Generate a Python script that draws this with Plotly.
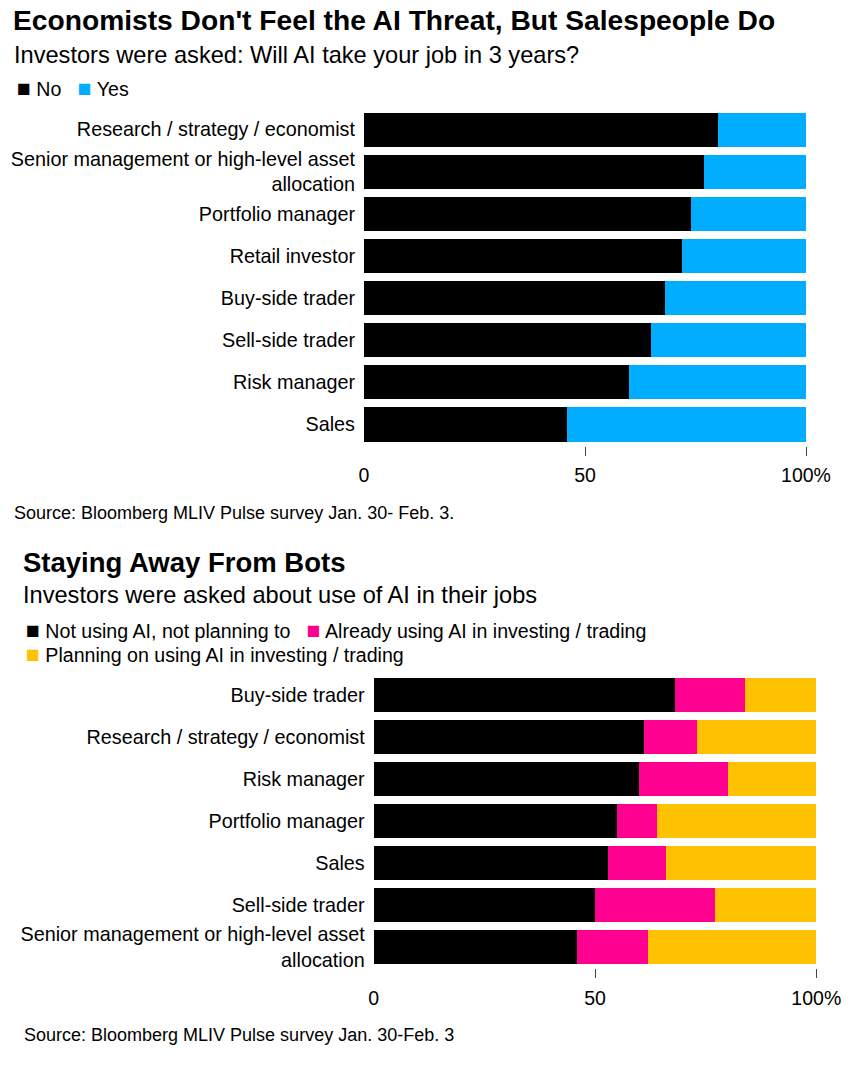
import plotly.graph_objects as go

# ---- Chart 1 data ----
roles1 = ["Research / strategy / economist",
          "Senior management or high-level asset<br>allocation",
          "Portfolio manager", "Retail investor", "Buy-side trader",
          "Sell-side trader", "Risk manager", "Sales"]
no_vals = [80, 77, 74, 72, 68, 65, 60, 46]
yes_vals = [20, 23, 26, 28, 32, 35, 40, 54]

# ---- Chart 2 data ----
roles2 = ["Buy-side trader", "Research / strategy / economist", "Risk manager",
          "Portfolio manager", "Sales", "Sell-side trader",
          "Senior management or high-level asset<br>allocation"]
not_using = [68, 61, 60, 55, 53, 50, 46]
already_using = [16, 12, 20, 9, 13, 27, 16]
planning = [16, 27, 20, 36, 34, 23, 38]

tick_vals = [0, 50, 100]
tick_text = ["0", "50", "100%"]

C_BLACK = "#000000"
C_CYAN = "#00adff"
C_MAGENTA = "#ff0090"
C_YELLOW = "#ffc200"
FONT = "Liberation Sans, Arial, sans-serif"

W, H = 853, 1066

fig = go.Figure()
fig.add_trace(go.Bar(y=roles1, x=no_vals, orientation="h", name="No",
                     marker=dict(color=C_BLACK, line=dict(width=0)),
                     xaxis="x", yaxis="y", showlegend=False))
fig.add_trace(go.Bar(y=roles1, x=yes_vals, orientation="h", name="Yes",
                     marker=dict(color=C_CYAN, line=dict(width=0)),
                     xaxis="x", yaxis="y", showlegend=False))
fig.add_trace(go.Bar(y=roles2, x=not_using, orientation="h",
                     name="Not using AI, not planning to",
                     marker=dict(color=C_BLACK, line=dict(width=0)),
                     xaxis="x2", yaxis="y2", showlegend=False))
fig.add_trace(go.Bar(y=roles2, x=already_using, orientation="h",
                     name="Already using AI in investing / trading",
                     marker=dict(color=C_MAGENTA, line=dict(width=0)),
                     xaxis="x2", yaxis="y2", showlegend=False))
fig.add_trace(go.Bar(y=roles2, x=planning, orientation="h",
                     name="Planning on using AI in investing / trading",
                     marker=dict(color=C_YELLOW, line=dict(width=0)),
                     xaxis="x2", yaxis="y2", showlegend=False))

def px_x(p):
    return p / W

def px_y(p):
    return 1 - p / H

xax = dict(range=[0, 100], tickvals=tick_vals, ticktext=tick_text,
           showgrid=False, zeroline=False, showline=False, ticks="",
           ticklabelstandoff=16, automargin=False,
           tickfont=dict(family=FONT, size=19.5, color="#000"),
           minor=dict(tickvals=[50, 100], ticks="outside", ticklen=9,
                      tickwidth=1.3, tickcolor="#444", showgrid=False),
           fixedrange=True)
yax = dict(autorange="reversed", showgrid=False, zeroline=False,
           showline=False, ticks="", ticklabelstandoff=8, automargin=False,
           tickfont=dict(family=FONT, size=19.8, color="#000"), fixedrange=True)

fig.update_layout(
    width=W, height=H, barmode="stack", bargap=0.19,
    paper_bgcolor="white", plot_bgcolor="white",
    margin=dict(l=0, r=0, t=0, b=0, autoexpand=False),
    font=dict(family=FONT, color="#000"),
    xaxis=dict(xax, domain=[px_x(364), px_x(806)], anchor="y"),
    yaxis=dict(yax, domain=[px_y(445.5), px_y(108.5)], anchor="x"),
    xaxis2=dict(xax, domain=[px_x(373.7), px_x(816.3)], anchor="y2"),
    yaxis2=dict(yax, domain=[px_y(968), px_y(674.3)], anchor="x2"),
)

ann = []
def text(x, y, s, size, bold=False, color="#000"):
    ann.append(dict(xref="paper", yref="paper", x=px_x(x), y=px_y(y),
                    xanchor="left", yanchor="middle", showarrow=False,
                    text=("<b>%s</b>" % s) if bold else s,
                    font=dict(family=FONT, size=size, color=color)))

SQ = "<span style='color:%s;font-size:23px'>■</span>"
NB = "\u00a0"

text(11, 20, "Economists Don't Feel the AI Threat, But Salespeople Do", 28.2, bold=True)
text(12, 55, "Investors were asked: Will AI take your job in 3 years?", 23.6)
text(15, 88, (SQ % C_BLACK) + " No" + NB * 3 + (SQ % C_CYAN) + " Yes", 19.6)
text(12, 513, "Source: Bloomberg MLIV Pulse survey Jan. 30- Feb. 3.", 18)

text(21, 562, "Staying Away From Bots", 27.5, bold=True)
text(21, 595, "Investors were asked about use of AI in their jobs", 23.6)
text(24, 630, (SQ % C_BLACK) + " Not using AI, not planning to" + NB * 3 +
     (SQ % C_MAGENTA) + " Already using AI in investing / trading", 19.6)
text(24, 654, (SQ % C_YELLOW) + " Planning on using AI in investing / trading", 19.6)
text(22, 1035, "Source: Bloomberg MLIV Pulse survey Jan. 30-Feb. 3", 18)

fig.update_layout(annotations=ann)
fig.write_html("out.html", config={"displayModeBar": False},
               post_script="document.body.style.margin='0px';")
